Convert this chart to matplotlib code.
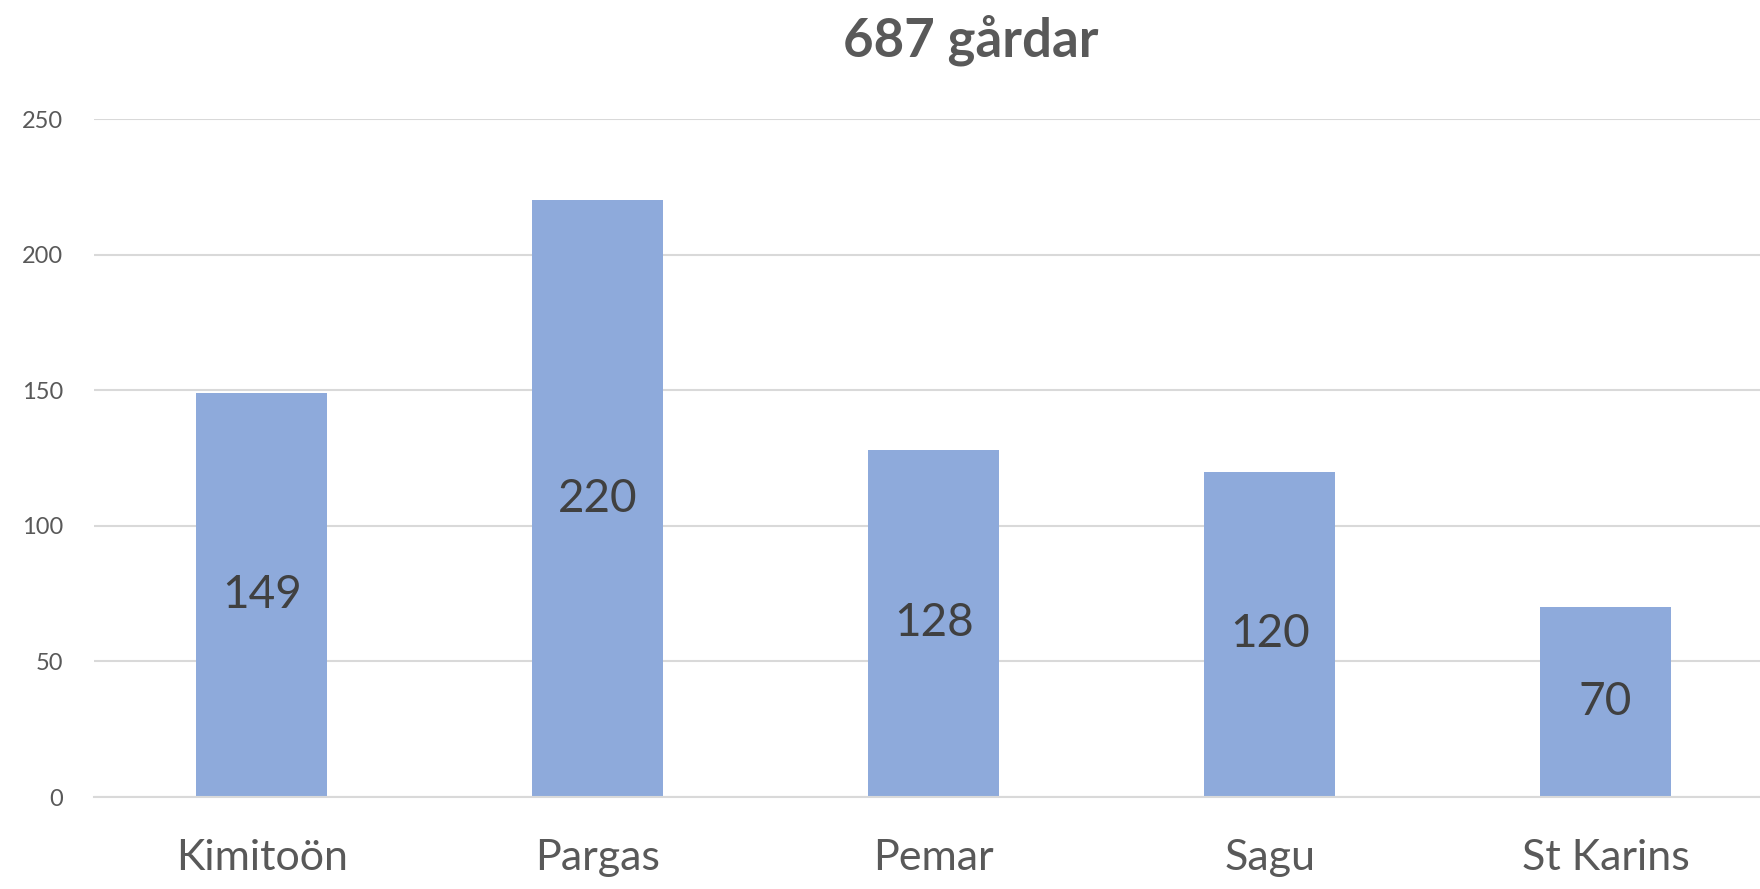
import matplotlib.pyplot as plt
import numpy as np

plt.rcParams['font.family'] = ['Lato', 'DejaVu Sans']

kommuner = ['Kimitoön', 'Pargas', 'Pemar', 'Sagu', 'St Karins']
gardar = [149, 220, 128, 120, 70]
yticks = [0, 50, 100, 150, 200, 250]
titel = '687 gårdar'

fig = plt.figure(figsize=(17.6, 8.89), dpi=100)
ax = fig.add_axes([94/1760, 92/889, 1 - 94/1760, 678/889])

x = np.arange(len(kommuner))
bars = ax.bar(x, gardar, width=0.39, color='#8EAADB', zorder=2)
ax.bar_label(bars, labels=[str(v) for v in gardar], label_type='center',
             fontsize=33, color='#404040')

ax.set_xlim(-0.5, 4.46)
ax.set_ylim(0, 250)
ax.set_yticks(yticks)
ax.set_xticks(x)
ax.set_xticklabels(kommuner, fontsize=31, color='#595959')
ax.tick_params(axis='y', labelsize=17, colors='#595959', length=0, pad=22)
ax.tick_params(axis='x', length=0, pad=30)
ax.grid(axis='y', color='#D9D9D9', linewidth=1.5, zorder=0)
for s in ['top', 'right', 'left']:
    ax.spines[s].set_visible(False)
ax.spines['bottom'].set_color('#D9D9D9')
ax.spines['bottom'].set_linewidth(1.5)

fig.text(971/1760, 1 - 40/889, titel, ha='center', va='center',
         fontsize=38, fontweight='bold', color='#595959')

fig.savefig('out.png', dpi=100, facecolor='white')
